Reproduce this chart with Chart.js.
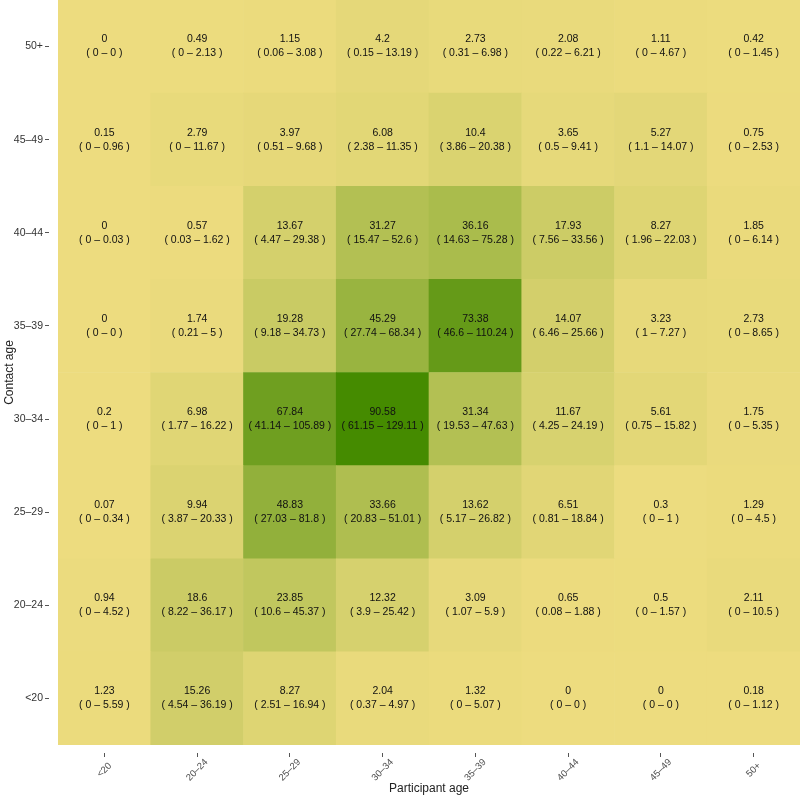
<!DOCTYPE html>
<html>
<head>
<meta charset="utf-8">
<script src="https://cdn.jsdelivr.net/npm/chart.js@4.4.0/dist/chart.umd.min.js"></script>
<style>
  html, body { margin: 0; padding: 0; background: #fff; }
  #wrap { width: 800px; height: 798px; }
</style>
</head>
<body>
<div id="wrap"><canvas id="heat" width="800" height="798"></canvas></div>
<script>
// participant age groups (x), contact age groups (y, bottom to top)
const participantAges = ["<20", "20–24", "25–29", "30–34", "35–39", "40–44", "45–49", "50+"];
const contactAges = ["<20", "20–24", "25–29", "30–34", "35–39", "40–44", "45–49", "50+"];

// mean contacts, one row per contact age (bottom row first)
const rates = [
    [1.23, 15.26, 8.27, 2.04, 1.32, 0, 0, 0.18],
    [0.94, 18.6, 23.85, 12.32, 3.09, 0.65, 0.5, 2.11],
    [0.07, 9.94, 48.83, 33.66, 13.62, 6.51, 0.3, 1.29],
    [0.2, 6.98, 67.84, 90.58, 31.34, 11.67, 5.61, 1.75],
    [0, 1.74, 19.28, 45.29, 73.38, 14.07, 3.23, 2.73],
    [0, 0.57, 13.67, 31.27, 36.16, 17.93, 8.27, 1.85],
    [0.15, 2.79, 3.97, 6.08, 10.4, 3.65, 5.27, 0.75],
    [0, 0.49, 1.15, 4.2, 2.73, 2.08, 1.11, 0.42]
];
const lower = [
    [0, 4.54, 2.51, 0.37, 0, 0, 0, 0],
    [0, 8.22, 10.6, 3.9, 1.07, 0.08, 0, 0],
    [0, 3.87, 27.03, 20.83, 5.17, 0.81, 0, 0],
    [0, 1.77, 41.14, 61.15, 19.53, 4.25, 0.75, 0],
    [0, 0.21, 9.18, 27.74, 46.6, 6.46, 1, 0],
    [0, 0.03, 4.47, 15.47, 14.63, 7.56, 1.96, 0],
    [0, 0, 0.51, 2.38, 3.86, 0.5, 1.1, 0],
    [0, 0, 0.06, 0.15, 0.31, 0.22, 0, 0]
];
const upper = [
    [5.59, 36.19, 16.94, 4.97, 5.07, 0, 0, 1.12],
    [4.52, 36.17, 45.37, 25.42, 5.9, 1.88, 1.57, 10.5],
    [0.34, 20.33, 81.8, 51.01, 26.82, 18.84, 1, 4.5],
    [1, 16.22, 105.89, 129.11, 47.63, 24.19, 15.82, 5.35],
    [0, 5, 34.73, 68.34, 110.24, 25.66, 7.27, 8.65],
    [0.03, 1.62, 29.38, 52.6, 75.28, 33.56, 22.03, 6.14],
    [0.96, 11.67, 9.68, 11.35, 20.38, 9.41, 14.07, 2.53],
    [0, 2.13, 3.08, 13.19, 6.98, 6.21, 4.67, 1.45]
];

const lowColor = [237, 220, 127];
const highColor = [69, 139, 0];
const maxRate = Math.max(...rates.flat());

function cellColor(v) {
    const t = v / maxRate;
    const c = lowColor.map((lo, i) => Math.round(lo + (highColor[i] - lo) * t));
    return 'rgb(' + c.join(',') + ')';
}

// text inside every cell + rotated x labels
const cellText = {
    id: 'cellText',
    afterDatasetsDraw(chart) {
        const ctx = chart.ctx;
        ctx.save();
        ctx.fillStyle = '#111';
        ctx.font = '10.5px "Liberation Sans", Arial, sans-serif';
        ctx.textAlign = 'center';
        ctx.textBaseline = 'middle';
        chart.data.datasets.forEach((ds, r) => {
            chart.getDatasetMeta(r).data.forEach((bar, c) => {
                const cy = (bar.y + bar.base) / 2;
                ctx.fillText(String(rates[r][c]), bar.x, cy - 7);
                ctx.fillText('( ' + lower[r][c] + ' – ' + upper[r][c] + ' )', bar.x, cy + 7);
            });
        });
        ctx.restore();
    },
    afterDraw(chart) {
        const ctx = chart.ctx;
        const xs = chart.scales.x;
        ctx.save();
        ctx.fillStyle = '#4d4d4d';
        ctx.font = '9.5px "Liberation Sans", Arial, sans-serif';
        ctx.textAlign = 'center';
        ctx.textBaseline = 'middle';
        participantAges.forEach((lab, i) => {
            ctx.save();
            ctx.translate(xs.getPixelForTick(i), chart.chartArea.bottom + 25);
            ctx.rotate(-Math.PI / 4);
            ctx.fillText(lab, 0, 0);
            ctx.restore();
        });
        ctx.restore();
    }
};

new Chart(document.getElementById('heat'), {
    type: 'bar',
    data: {
        labels: participantAges,
        datasets: contactAges.map((age, r) => ({
            label: age,
            data: participantAges.map(() => 1),
            backgroundColor: rates[r].map(cellColor),
            borderWidth: 0,
            barPercentage: 1,
            categoryPercentage: 1
        }))
    },
    options: {
        responsive: false,
        animation: false,
        layout: { padding: 0 },
        plugins: {
            legend: { display: false },
            tooltip: { enabled: false }
        },
        scales: {
            x: {
                stacked: true,
                border: { display: false },
                grid: {
                    offset: false,
                    drawOnChartArea: false,
                    drawTicks: true,
                    tickLength: 12,
                    tickBorderDash: [0, 8, 4, 40],
                    tickColor: '#555',
                    tickWidth: 1
                },
                ticks: { display: false },
                title: {
                    display: true,
                    text: 'Participant age',
                    color: '#222',
                    font: { size: 12, family: '"Liberation Sans", Arial, sans-serif' },
                    padding: { top: 0, bottom: 2 }
                },
                afterFit(scale) { scale.height = 53; }
            },
            y: {
                stacked: true,
                min: 0,
                max: contactAges.length,
                border: { display: false },
                grid: {
                    drawOnChartArea: false,
                    drawTicks: true,
                    tickLength: 13,
                    tickBorderDash: [4, 40],
                    tickColor: '#555',
                    tickWidth: 1
                },
                afterBuildTicks(scale) {
                    scale.ticks = contactAges.map((a, i) => ({ value: i + 0.5 }));
                },
                ticks: {
                    padding: 2,
                    color: '#333',
                    font: { size: 10.5, family: '"Liberation Sans", Arial, sans-serif' },
                    callback: (v) => contactAges[Math.floor(v)]
                },
                title: {
                    display: true,
                    text: 'Contact age',
                    color: '#222',
                    font: { size: 12, family: '"Liberation Sans", Arial, sans-serif' },
                    padding: { top: 2, bottom: 0 }
                },
                afterFit(scale) {
                    scale.width = 58;
                    scale.paddingTop = 0;
                    scale.paddingBottom = 0;
                }
            }
        }
    },
    plugins: [cellText]
});
</script>
</body>
</html>
